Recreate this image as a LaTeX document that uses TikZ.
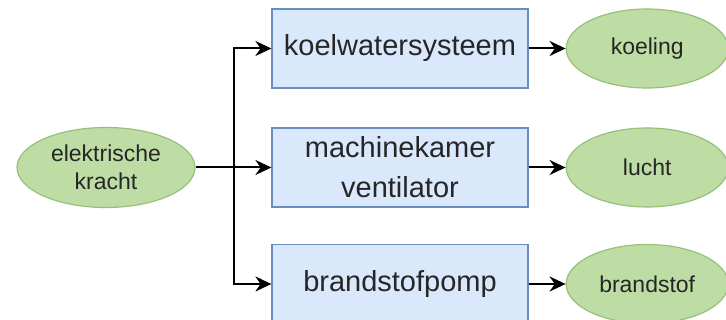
\documentclass[tikz,border=0pt]{standalone}
\usepackage{fontspec}
\setmainfont{Liberation Sans}
\usetikzlibrary{positioning,arrows.meta,shapes}

\definecolor{boxfill}{HTML}{DAE8FC}
\definecolor{boxline}{HTML}{6C8EBF}
\definecolor{ovalfill}{HTML}{BEDDA5}
\definecolor{ovalline}{HTML}{97C07A}
\definecolor{txt}{HTML}{262626}

\begin{document}
\begin{tikzpicture}[x=1pt,y=1pt,
    flow/.style={line width=2pt,-{Stealth[length=16pt,width=15pt]}},
    unit/.style={rectangle,draw=boxline,fill=boxfill,line width=1.2pt,
        minimum width=256pt,minimum height=79pt,inner sep=0pt,align=center,
        text=txt,font=\fontsize{29}{40}\selectfont},
    oval/.style={ellipse,draw=ovalline,fill=ovalfill,line width=1.2pt,
        minimum width=162pt,minimum height=79pt,inner sep=0pt,align=center,
        text=txt,font=\fontsize{23}{28}\selectfont}]
    \useasboundingbox (0,0) rectangle (726,320);

    % Source
    \node[oval,minimum width=178pt,minimum height=80pt] (elec) at (106,152.5) {elektrische\\kracht};
    \coordinate[right=38pt of elec.east] (split);

    % Systems
    \node[unit] (koelsys) at (400,271.5) {koelwatersysteem};
    \node[unit] (vent) at (400,152.5) {machinekamer\\ventilator};
    \node[unit] (pomp) at (400,36) {brandstofpomp};

    % Outputs
    \node[oval,right=37pt of koelsys] (koeling) {koeling};
    \node[oval,right=37pt of vent] (lucht) {lucht};
    \node[oval,right=37pt of pomp] (brandstof) {brandstof};

    % Arrows
    \draw[line width=2pt] (elec) -- (split);
    \draw[flow] (split) |- (koelsys);
    \draw[flow] (split) -- (vent);
    \draw[flow] (split) |- (pomp);
    \draw[flow] (koelsys) -- (koeling);
    \draw[flow] (vent) -- (lucht);
    \draw[flow] (pomp) -- (brandstof);
\end{tikzpicture}
\end{document}
